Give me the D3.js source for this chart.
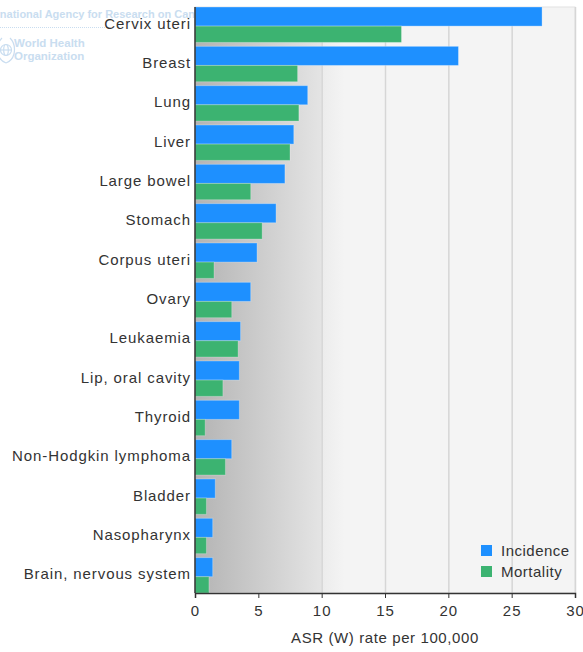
<!DOCTYPE html>
<html>
<head>
<meta charset="utf-8">
<script src="https://cdn.jsdelivr.net/npm/d3@7"></script>
<style>
  html, body { margin: 0; padding: 0; background: #ffffff; }
  svg { display: block; }
  text { font-family: "Liberation Sans", Arial, Helvetica, sans-serif; }
</style>
</head>
<body>
<svg id="chart" width="583" height="652"></svg>
<script>
// Cancer sites, ordered by incidence
const sites = [
  "Cervix uteri", "Breast", "Lung", "Liver", "Large bowel", "Stomach",
  "Corpus uteri", "Ovary", "Leukaemia", "Lip, oral cavity", "Thyroid",
  "Non-Hodgkin lymphoma", "Bladder", "Nasopharynx", "Brain, nervous system"
];
// Age-standardised rates (World), per 100,000
const incidence = [27.4, 20.8, 8.9, 7.8, 7.1, 6.4, 4.9, 4.4, 3.6, 3.5, 3.5, 2.9, 1.6, 1.4, 1.4];
const mortality = [16.3, 8.1, 8.2, 7.5, 4.4, 5.3, 1.5, 2.9, 3.4, 2.2, 0.8, 2.4, 0.9, 0.9, 1.1];
const seriesNames = ["Incidence", "Mortality"];
const xTicks = [0, 5, 10, 15, 20, 25, 30];
const axisTitle = "ASR (W) rate per 100,000";

const colors = { Incidence: "#1e90ff", Mortality: "#3cb371" };
const ink = "#333333";

const svg = d3.select("#chart");
const plot = { left: 195, right: 575, top: 7, bottom: 593 };

const x = d3.scaleLinear().domain([0, 30]).range([plot.left, plot.right]);
const y = d3.scaleBand().domain(sites).range([plot.top, plot.bottom])
  .paddingInner(0.1).paddingOuter(0);

// Agency watermark behind the plot
const wmColor = "#c9ddf0";
const wm = svg.append("g").attr("fill", wmColor).attr("font-weight", "bold");
wm.append("text").attr("x", -24).attr("y", 18).attr("font-size", 11)
  .text("International Agency for Research on Cancer");
wm.append("line").attr("x1", 0).attr("x2", 108).attr("y1", 27.5).attr("y2", 27.5)
  .attr("stroke", wmColor).attr("stroke-dasharray", "1,1");
const globe = wm.append("g").attr("transform", "translate(6,50)")
  .attr("fill", "none").attr("stroke", wmColor).attr("stroke-width", 1.2);
globe.append("circle").attr("r", 5.5);
globe.append("ellipse").attr("rx", 2.3).attr("ry", 5.5);
globe.append("line").attr("x1", -5.5).attr("x2", 5.5);
globe.append("path").attr("d", "M-4,-12 Q-10,-6 -8,4 Q-6,11 0,13 M4,-12 Q10,-6 8,4 Q6,11 0,13");
wm.append("text").attr("x", 14).attr("y", 47).attr("font-size", 11.5).text("World Health");
wm.append("text").attr("x", 14).attr("y", 60).attr("font-size", 11.5).text("Organization");

// Plot background: grey shading that fades out by the 10 mark
const defs = svg.append("defs");
const grad = defs.append("linearGradient").attr("id", "bg")
  .attr("gradientUnits", "userSpaceOnUse")
  .attr("x1", plot.left).attr("x2", plot.right).attr("y1", 0).attr("y2", 0);
const g10 = (x(10) - plot.left) / (plot.right - plot.left);
[[0, "#b3b3b3"], [g10 - 0.002, "#e4e4e4"], [g10 + 0.002, "#ececec"],
 [g10 + 0.06, "#f4f4f4"], [1, "#f4f4f4"]].forEach(([o, c]) =>
  grad.append("stop").attr("offset", o).attr("stop-color", c));

svg.append("rect")
  .attr("x", plot.left).attr("y", plot.top)
  .attr("width", plot.right - plot.left).attr("height", plot.bottom - plot.top)
  .attr("fill", "url(#bg)").attr("stroke", "#e2e2e2").attr("stroke-width", 1);

// Vertical gridlines (the 5 line is hidden inside the shading)
svg.append("g").selectAll("line")
  .data(xTicks.filter(t => t >= 10))
  .join("line")
  .attr("x1", d => x(d) + 0.5).attr("x2", d => x(d) + 0.5)
  .attr("y1", plot.top).attr("y2", plot.bottom)
  .attr("stroke", "#d6d6d6").attr("stroke-width", 1.5);

// Bars: incidence on top, mortality beneath, per site
const blueH = y.bandwidth() * 0.54;
const greenH = y.bandwidth() - blueH;
const groups = svg.append("g").selectAll("g")
  .data(sites.map((s, i) => ({ site: s, inc: incidence[i], mort: mortality[i] })))
  .join("g")
  .attr("transform", d => `translate(0,${y(d.site)})`);

groups.append("rect")
  .attr("x", x(0)).attr("y", 0)
  .attr("width", d => x(d.inc) - x(0)).attr("height", blueH)
  .attr("fill", colors.Incidence)
  .attr("stroke", "rgba(255,255,255,0.3)").attr("stroke-width", 1);
groups.append("rect")
  .attr("x", x(0)).attr("y", blueH)
  .attr("width", d => x(d.mort) - x(0)).attr("height", greenH)
  .attr("fill", colors.Mortality)
  .attr("stroke", "rgba(255,255,255,0.25)").attr("stroke-width", 1);

// Category labels
svg.append("g").selectAll("text")
  .data(sites)
  .join("text")
  .attr("x", plot.left - 4)
  .attr("y", d => y(d) + y.bandwidth() / 2 + 4)
  .attr("text-anchor", "end")
  .attr("font-size", 15)
  .attr("letter-spacing", "0.9px")
  .attr("fill", ink)
  .text(d => d);

// Axes
const xAxis = d3.axisBottom(x).tickValues(xTicks).tickSize(5).tickPadding(7);
const ax = svg.append("g")
  .attr("transform", `translate(0,${plot.bottom})`)
  .call(xAxis);
ax.select(".domain").attr("stroke", ink).attr("stroke-width", 1.5);
ax.selectAll(".tick line").attr("stroke", ink);
ax.selectAll(".tick text")
  .attr("font-size", 15).attr("fill", ink)
  .attr("font-family", "'Liberation Sans', Arial, sans-serif")
  .attr("letter-spacing", "1px");

svg.append("line")
  .attr("x1", plot.left).attr("x2", plot.left)
  .attr("y1", plot.top).attr("y2", plot.bottom)
  .attr("stroke", ink).attr("stroke-width", 1.5);

svg.append("text")
  .attr("x", (plot.left + plot.right) / 2)
  .attr("y", 643)
  .attr("text-anchor", "middle")
  .attr("font-size", 15)
  .attr("letter-spacing", "0.6px")
  .attr("fill", ink)
  .text(axisTitle);

// Legend
const legend = svg.append("g").attr("transform", "translate(481,545)");
seriesNames.forEach((name, i) => {
  const row = legend.append("g").attr("transform", `translate(0,${i * 21})`);
  row.append("rect").attr("width", 11).attr("height", 11).attr("fill", colors[name]);
  row.append("text").attr("x", 20).attr("y", 11)
    .attr("font-size", 15).attr("fill", ink).attr("letter-spacing", "0.5px")
    .text(name);
});
</script>
</body>
</html>
